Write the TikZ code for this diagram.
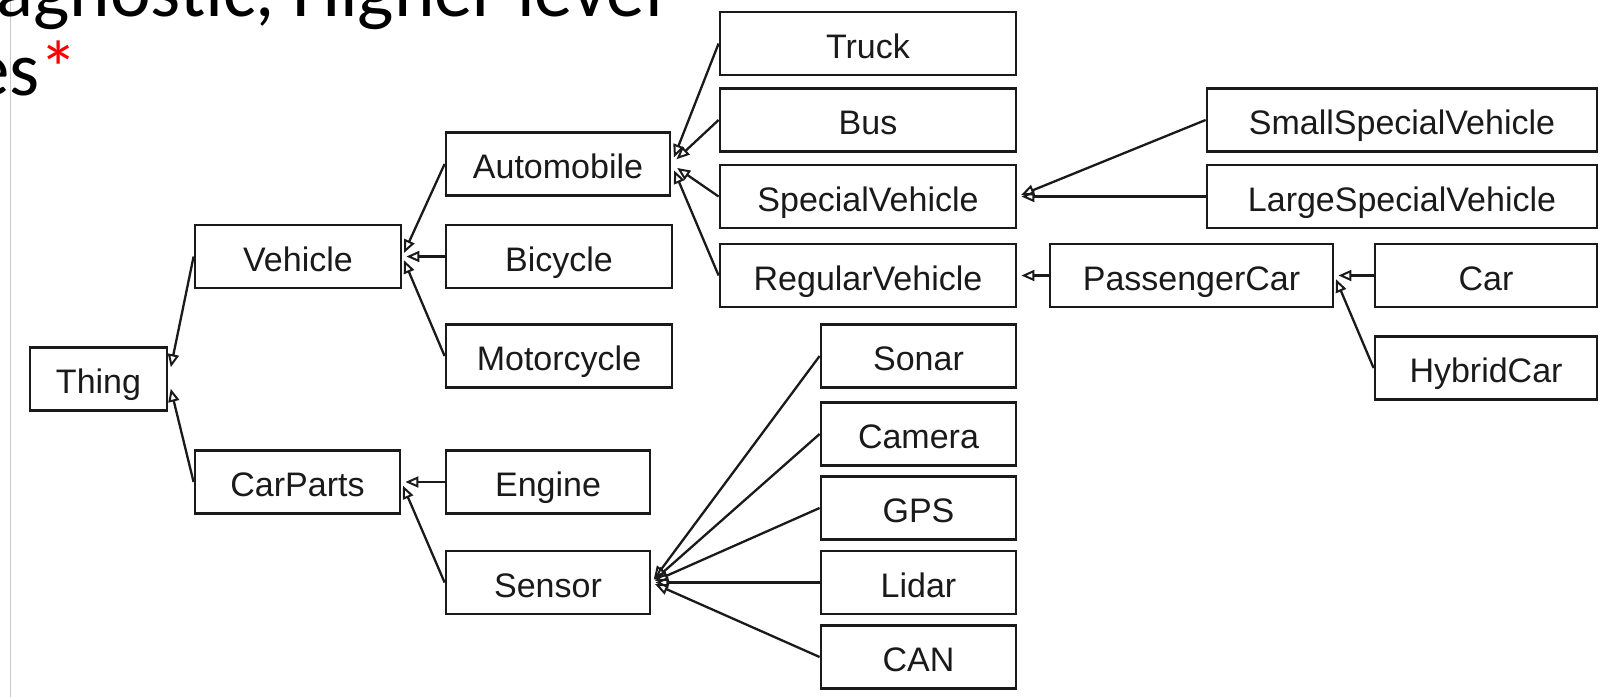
\documentclass[tikz,border=0pt]{standalone}
\usepackage{fontspec}
\usetikzlibrary{arrows.meta}
\newfontfamily\boxfont{Liberation Sans}
\newfontfamily\titlefont{Carlito}
\definecolor{ink}{HTML}{1A1A1A}
\definecolor{edgegray}{HTML}{C8C8C8}
\tikzset{
  cls/.style={draw=ink, line width=2.8pt, minimum height=63pt, inner sep=0pt,
    text=ink, font=\boxfont\fontsize{34}{40}\selectfont,
    text height=29pt, text depth=0pt},
  isa/.style={draw=ink, line width=2.3pt, shorten >=4pt,
    -{Triangle[open, length=13pt, width=11pt, line width=2pt]}},
  headline/.style={inner sep=0pt, font=\titlefont\fontsize{77}{88}\selectfont},
}
\begin{document}
\begin{tikzpicture}[x=1pt, y=-1pt]
\useasboundingbox (0,0) rectangle (1609,697);
\clip (0,0) rectangle (1609,697);
\fill[white] (0,0) rectangle (1609,697);

% slide edge and the tail of the heading
\draw[edgegray, line width=1pt] (10.5,0) -- (10.5,697);
\node[headline, anchor=base east] (head1) at (663,16) {agnostic, Higher level};
\node[headline, anchor=base west] (head2) at (-29,95) {es\textcolor{red}{*}};

% class boxes
\node[cls, minimum width=137pt] (Thing) at (98.5,379) {Thing};
\node[cls, minimum width=206pt] (Vehicle) at (298,256.5) {Vehicle};
\node[cls, minimum width=205pt] (CarParts) at (297.5,482) {CarParts};

\node[cls, minimum width=224pt] (Automobile) at (558,164) {Automobile};
\node[cls, minimum width=226pt] (Bicycle) at (559,256.5) {Bicycle};
\node[cls, minimum width=226pt] (Motorcycle) at (559,356) {Motorcycle};
\node[cls, minimum width=204pt] (Engine) at (548,482) {Engine};
\node[cls, minimum width=204pt] (Sensor) at (548,582.5) {Sensor};

\node[cls, minimum width=296pt] (Truck) at (868,43.5) {Truck};
\node[cls, minimum width=296pt] (Bus) at (868,120) {Bus};
\node[cls, minimum width=296pt] (SpecialVehicle) at (868,196.5) {SpecialVehicle};
\node[cls, minimum width=296pt] (RegularVehicle) at (868,275.5) {RegularVehicle};

\node[cls, minimum width=195pt] (Sonar) at (918.5,356) {Sonar};
\node[cls, minimum width=195pt] (Camera) at (918.5,434) {Camera};
\node[cls, minimum width=195pt] (GPS) at (918.5,508) {GPS};
\node[cls, minimum width=195pt] (Lidar) at (918.5,582.5) {Lidar};
\node[cls, minimum width=195pt] (CAN) at (918.5,657) {CAN};

\node[cls, minimum width=390pt] (SmallSpecialVehicle) at (1402,120) {SmallSpecialVehicle};
\node[cls, minimum width=390pt] (LargeSpecialVehicle) at (1402,196.5) {LargeSpecialVehicle};
\node[cls, minimum width=283pt] (PassengerCar) at (1191.5,275.5) {PassengerCar};
\node[cls, minimum width=222pt] (Car) at (1486,275.5) {Car};
\node[cls, minimum width=222pt] (HybridCar) at (1486,368) {HybridCar};

% generalisation links, child to parent
\draw[isa, shorten >=12pt] (Vehicle.west) -- (Thing.east);
\draw[isa, shorten >=10pt] (CarParts.west) -- (Thing.east);

\draw[isa] (Automobile.west) -- (Vehicle.east);
\draw[isa] (Bicycle.west) -- (Vehicle.east);
\draw[isa] (Motorcycle.west) -- (Vehicle.east);

\draw[isa] (Engine.west) -- (CarParts.east);
\draw[isa] (Sensor.west) -- (CarParts.east);

\draw[isa, shorten >=7pt] (Truck.west) -- (Automobile.east);
\draw[isa, shorten >=7pt] (Bus.west) -- (Automobile.east);
\draw[isa, shorten >=7pt] (SpecialVehicle.west) -- (Automobile.east);
\draw[isa, shorten >=7pt] (RegularVehicle.west) -- (Automobile.east);

\draw[isa] (SmallSpecialVehicle.west) -- (SpecialVehicle.east);
\draw[isa] (LargeSpecialVehicle.west) -- (SpecialVehicle.east);

\draw[isa] (PassengerCar.west) -- (RegularVehicle.east);
\draw[isa] (Car.west) -- (PassengerCar.east);
\draw[isa] (HybridCar.west) -- (PassengerCar.east);

\draw[isa] (Sonar.west) -- (Sensor.east);
\draw[isa] (Camera.west) -- (Sensor.east);
\draw[isa] (GPS.west) -- (Sensor.east);
\draw[isa] (Lidar.west) -- (Sensor.east);
\draw[isa] (CAN.west) -- (Sensor.east);
\end{tikzpicture}
\end{document}
